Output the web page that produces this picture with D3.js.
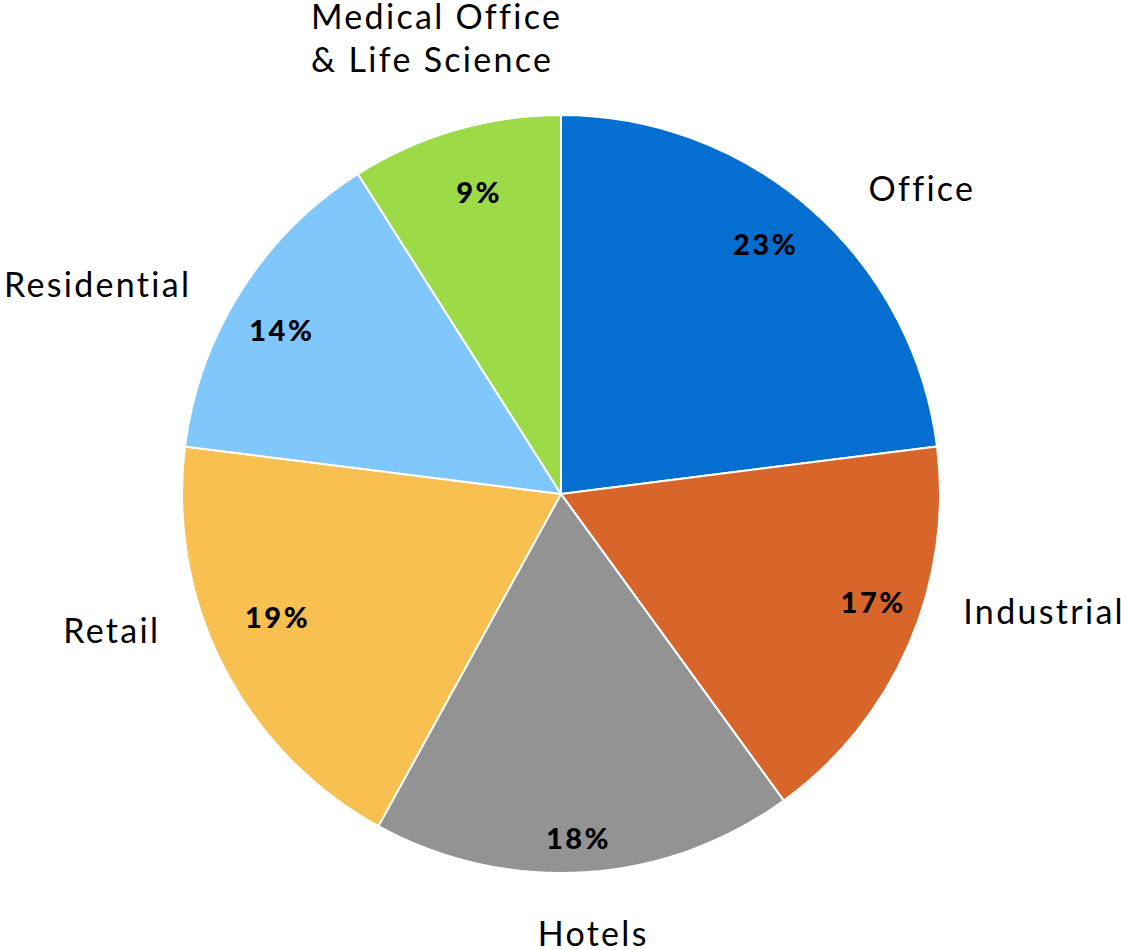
<!DOCTYPE html>
<html>
<head>
<meta charset="utf-8">
<script src="https://cdn.jsdelivr.net/npm/d3@7"></script>
<style>
  html, body { margin: 0; padding: 0; background: #fff; }
  svg { display: block; }
</style>
</head>
<body>
<svg id="chart" width="1121" height="950"></svg>
<script>
// ---- data ----
const categories = ["Office", "Industrial", "Hotels", "Retail", "Residential", "Medical Office\n& Life Science"];
const shares = [23, 17, 18, 19, 14, 9];
const pctLabels = ["23%", "17%", "18%", "19%", "14%", "9%"];
const colors = ["#046FD0", "#D8652A", "#939393", "#F8C050", "#80C7FC", "#9DDA47"];

// ---- layout (label nudges from the mid-angle anchor, in px) ----
const labelNudge = [[49, 59.5], [50.6, -56.6], [1.5, -17], [-31.7, -64.7], [-67.7, 54.8], [5.6, -13.4]];
const pctNudge = [[-11, -5], [13, -21], [-3, 19], [7, -24], [-4, 11], [9, 12]];

const svg = d3.select("#chart");
const cx = 561, cy = 494, R = 379;
const g = svg.append("g").attr("transform", `translate(${cx},${cy})`);

const data = categories.map((c, i) => ({ name: c, value: shares[i], pct: pctLabels[i], color: colors[i], i }));

const pie = d3.pie().value(d => d.value).sort(null);
const arcs = pie(data);
const arc = d3.arc().innerRadius(0).outerRadius(R);

g.selectAll("path.slice")
  .data(arcs)
  .join("path")
  .attr("class", "slice")
  .attr("d", arc)
  .attr("fill", d => d.data.color)
  .attr("stroke", "#fff")
  .attr("stroke-width", 2)
  .attr("stroke-linejoin", "round");

const pctArc = d3.arc().innerRadius(R * 0.86).outerRadius(R * 0.86);
g.selectAll("text.pct")
  .data(arcs)
  .join("text")
  .attr("class", "pct")
  .attr("transform", d => {
    const [x, y] = pctArc.centroid(d);
    const n = pctNudge[d.data.i];
    return `translate(${x + n[0]},${y + n[1]})`;
  })
  .attr("text-anchor", "middle")
  .attr("dy", "0.36em")
  .style("font-family", "Lato, 'Noto Sans', sans-serif")
  .style("font-weight", "900")
  .style("font-size", "29px")
  .style("letter-spacing", "2.5px")
  .attr("fill", "#000")
  .text(d => d.data.pct);

const labArc = d3.arc().innerRadius(470).outerRadius(470);
const labels = g.selectAll("text.lab")
  .data(arcs)
  .join("text")
  .attr("class", "lab")
  .attr("transform", d => {
    const [x, y] = labArc.centroid(d);
    const n = labelNudge[d.data.i];
    return `translate(${x + n[0]},${y + n[1]})`;
  })
  .attr("text-anchor", "start")
  .style("font-family", "Lato, 'Noto Sans', sans-serif")
  .style("font-size", "34px")
  .style("letter-spacing", "2.3px")
  .attr("fill", "#000");

labels.each(function(d) {
  const lines = d.data.name.split("\n");
  const t = d3.select(this);
  const lh = 42.7;
  const spans = lines.map((ln, k) =>
    t.append("tspan").attr("x", 0).attr("y", k * lh).text(ln));
  const widths = spans.map(s => s.node().getComputedTextLength());
  const maxW = d3.max(widths) - 2.3;
  spans.forEach(s => s.attr("x", -maxW / 2));
});
</script>
</body>
</html>
